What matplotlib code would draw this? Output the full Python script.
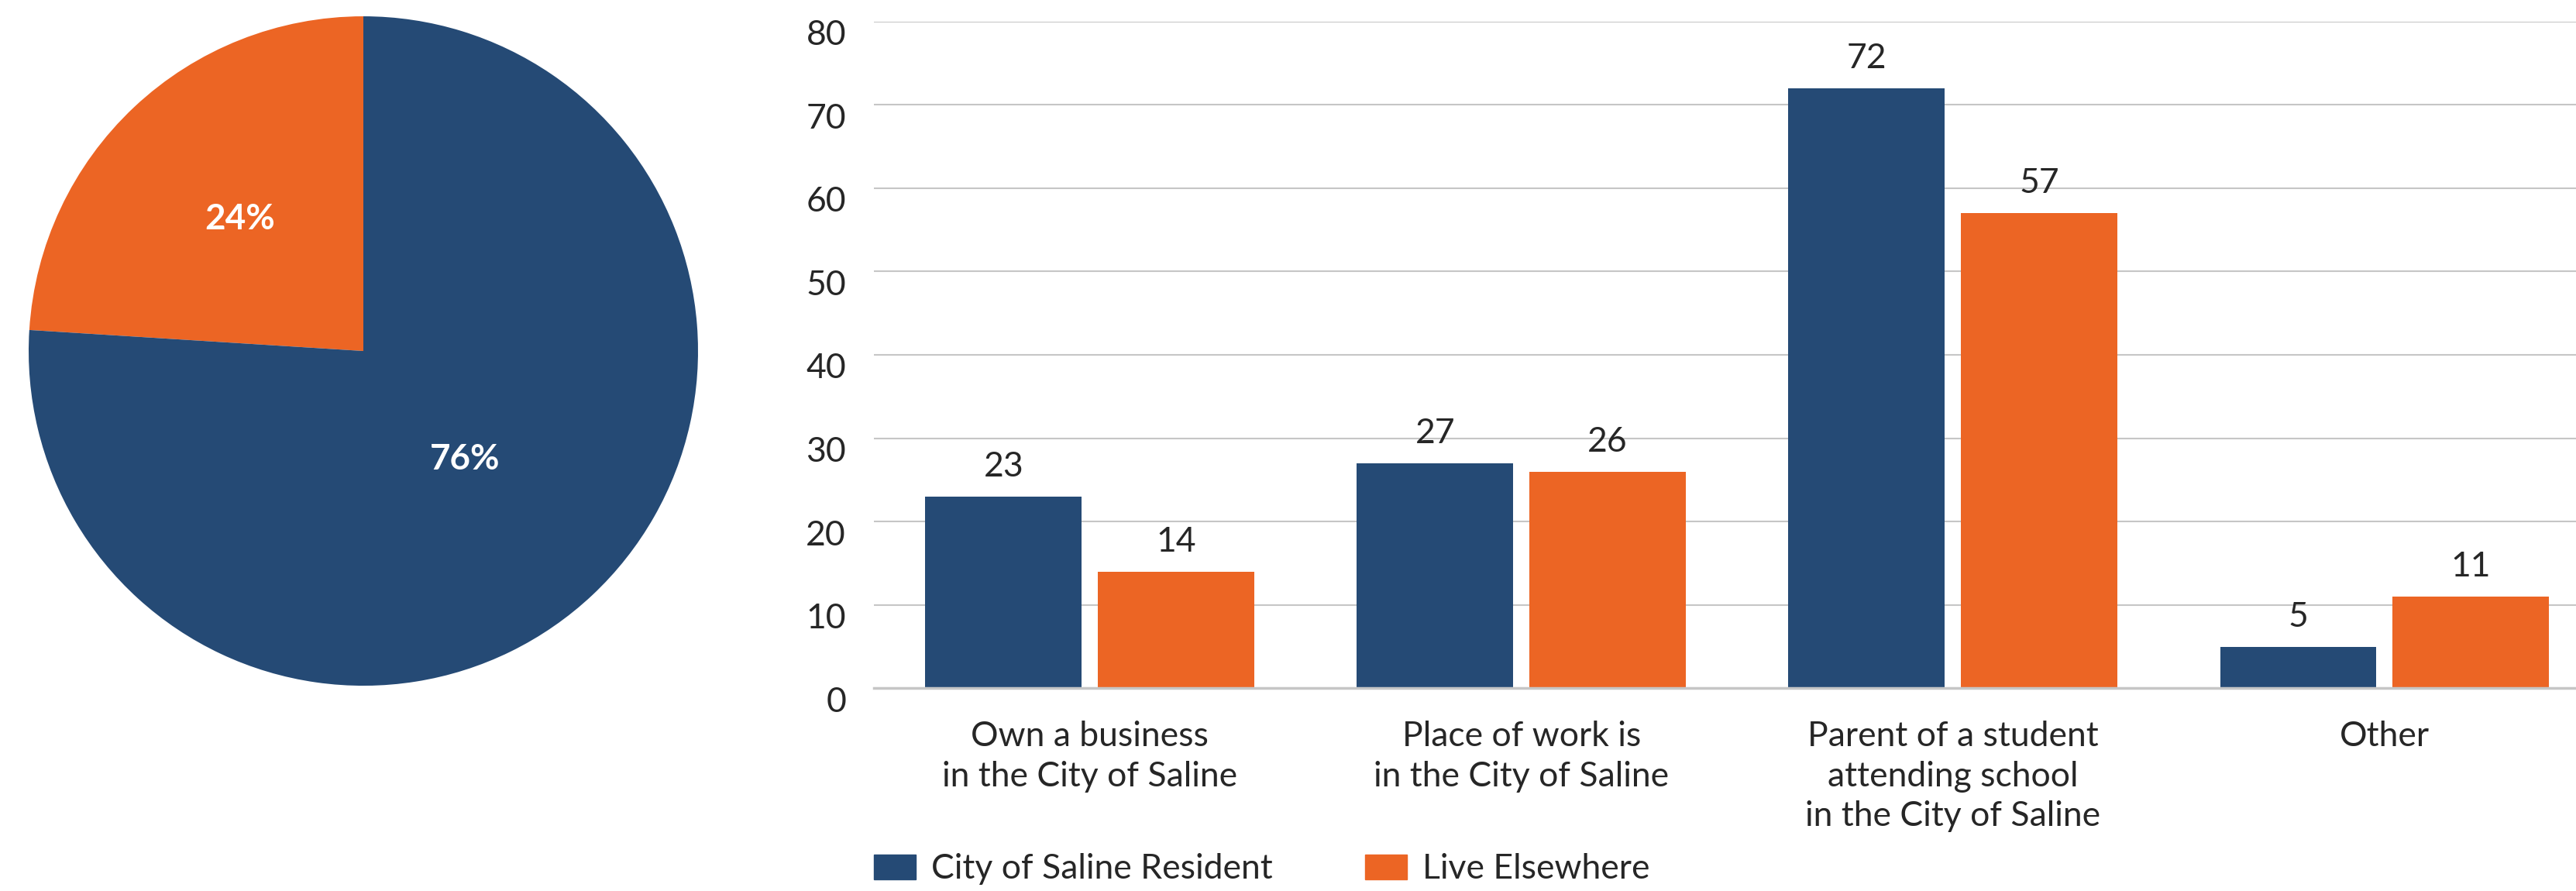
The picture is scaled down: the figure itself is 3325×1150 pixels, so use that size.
import numpy as np
import matplotlib.pyplot as plt
import matplotlib.transforms as mtransforms
from matplotlib.patches import Patch

# data
categories = ["Own a business\nin the City of Saline",
              "Place of work is\nin the City of Saline",
              "Parent of a student\nattending school\nin the City of Saline",
              "Other"]
resident = [23, 27, 72, 5]
elsewhere = [14, 26, 57, 11]
series_names = ["City of Saline Resident", "Live Elsewhere"]
pie_values = [24, 76]          # Live Elsewhere, Resident
pie_labels = ["24%", "76%"]
y_ticks = [0, 10, 20, 30, 40, 50, 60, 70, 80]

BLUE = "#254A75"
ORANGE = "#EC6524"
TEXT = "#262626"
GRID = "#c6c6c6"

plt.rcParams['font.family'] = ['Lato', 'DejaVu Sans']

fig = plt.figure(figsize=(33.25, 11.5), dpi=100)

# pie
ax_pie = fig.add_axes([0.0111, 0.2304, 0.2599, 0.7513])
wedges, _ = ax_pie.pie(pie_values, colors=[ORANGE, BLUE], startangle=90,
                       counterclock=True, radius=1)
ax_pie.set_xlim(-1, 1)
ax_pie.set_ylim(-1, 1)
ax_pie.set_aspect('equal')
ax_pie.axis('off')
label_r = [0.54, 0.445]
for w, lab, r in zip(wedges, pie_labels, label_r):
    mid = np.deg2rad((w.theta1 + w.theta2) / 2)
    ax_pie.text(r * np.cos(mid), r * np.sin(mid), lab, color="white",
                fontsize=33, fontweight='bold', ha='center', va='center')

# bars - the plot area runs a bit past the right edge of the image
ax = fig.add_axes([0.3393, 0.2274, 0.6701, 0.7486])
x = np.arange(len(categories))
width = 0.362
off = 0.2
b1 = ax.bar(x - off, resident, width, color=BLUE, label=series_names[0])
b2 = ax.bar(x + off, elsewhere, width, color=ORANGE, label=series_names[1])
ax.bar_label(b1, padding=13, fontsize=32, color=TEXT)
ax.bar_label(b2, padding=13, fontsize=32, color=TEXT)

ax.set_xlim(-0.5, 3.5)
ax.set_ylim(0, 80)
ax.set_yticks(y_ticks)
ax.set_xticks(x, categories)
ax.yaxis.grid(True, color=GRID, linewidth=1.5)
ax.set_axisbelow(True)
for s in ['top', 'right', 'left']:
    ax.spines[s].set_visible(False)
ax.spines['bottom'].set_color(GRID)
ax.spines['bottom'].set_linewidth(2.5)
ax.tick_params(axis='y', length=0, labelsize=32, labelcolor=TEXT, pad=26)
ax.tick_params(axis='x', length=0, labelsize=32, labelcolor=TEXT, pad=30)
for lab in ax.get_xticklabels():
    lab.set_linespacing(1.32)

# y labels sit a little below their gridlines
shift = mtransforms.ScaledTranslation(0, -10 / 72, fig.dpi_scale_trans)
for lab in ax.get_yticklabels():
    lab.set_transform(lab.get_transform() + shift)

handles = [Patch(color=BLUE), Patch(color=ORANGE)]
fig.legend(handles, series_names, loc='center left',
           bbox_to_anchor=(0.3393, 1 - 1122 / 1150), ncol=2, frameon=False,
           fontsize=32, handlelength=1.2, handleheight=0.75,
           handletextpad=0.45, columnspacing=2.7, borderpad=0,
           borderaxespad=0, labelcolor=TEXT)

plt.savefig("out.png", dpi=100)
